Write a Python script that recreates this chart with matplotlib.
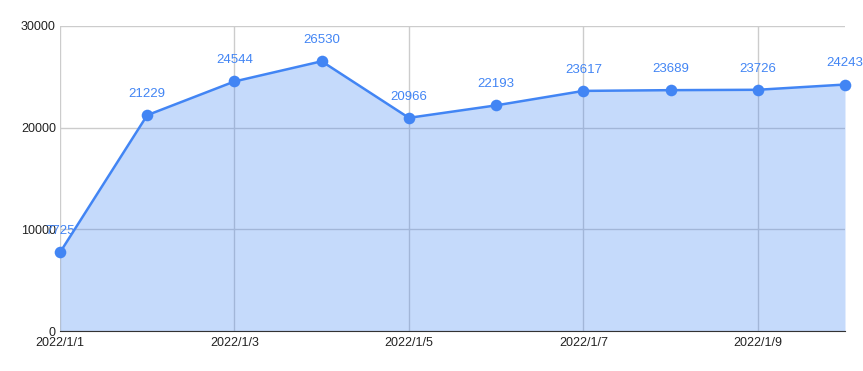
import matplotlib
matplotlib.use("Agg")
import matplotlib.pyplot as plt

dates = ["2022/1/1", "2022/1/2", "2022/1/3", "2022/1/4", "2022/1/5",
         "2022/1/6", "2022/1/7", "2022/1/8", "2022/1/9", "2022/1/10"]
values = [7725, 21229, 24544, 26530, 20966, 22193, 23617, 23689, 23726, 24243]
y_ticks = [0, 10000, 20000, 30000]

plt.rcParams['font.family'] = ['Liberation Sans', 'DejaVu Sans']

fig = plt.figure(figsize=(8.63, 3.71), dpi=100)
ax = fig.add_axes([60/863, 1-331/371, 785/863, 305/371])

x = list(range(len(values)))
line_c = "#4285F4"
ax.fill_between(x, values, 0, color=line_c, alpha=0.3, linewidth=0, zorder=2)
ax.plot(x, values, color=line_c, linewidth=1.8, zorder=3)
ax.scatter(x, values, s=70, color=line_c, zorder=4, linewidths=0, clip_on=False)

for xi, v in zip(x, values):
    ax.annotate(str(v), (xi, v), xytext=(0, 11), textcoords="offset points",
                ha="center", va="bottom", color=line_c, fontsize=9.5, zorder=5,
                annotation_clip=False)

ax.set_xlim(0, len(values) - 1)
ax.set_ylim(0, 30000)
ax.set_yticks(y_ticks)
ax.set_yticklabels([str(t) for t in y_ticks])
ax.set_xticks(x[::2])
ax.set_xticklabels(dates[::2])

ax.grid(True, color="#cccccc", linewidth=1, zorder=1)
ax.set_axisbelow(True)
for s in ["top", "right", "left"]:
    ax.spines[s].set_visible(False)
ax.spines["bottom"].set_color("#333333")
ax.spines["bottom"].set_zorder(6)
ax.tick_params(length=0, labelsize=9, colors="#222222", pad=3)
ax.tick_params(axis="x", pad=4)

fig.savefig("out.png", dpi=100)
